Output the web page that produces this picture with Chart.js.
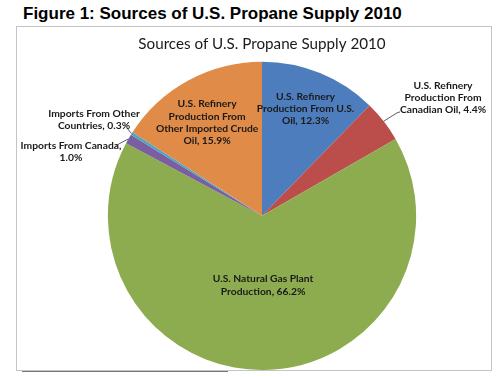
<!DOCTYPE html>
<html>
<head>
<meta charset="utf-8">
<script src="https://cdn.jsdelivr.net/npm/chart.js@4/dist/chart.umd.min.js"></script>
<style>
  body { margin: 0; background: #fff; width: 500px; height: 377px; overflow: hidden; position: relative; }
  #fig { position: absolute; left: 23px; top: 4px; font: bold 17px "Liberation Sans", Arial, sans-serif; color: #000; white-space: nowrap; }
  #box { position: absolute; left: 16px; top: 26px; width: 474px; height: 343px; border: 1px solid #c4c4c4; }
  #rule { position: absolute; left: 22px; top: 371px; width: 206px; height: 1px; background: #777; }
</style>
</head>
<body>
<div id="fig">Figure 1: Sources of U.S. Propane Supply 2010</div>
<div id="box"><canvas id="myChart" width="474" height="343"></canvas></div>
<div id="rule"></div>
<script>
const labels = [
  'U.S. Refinery Production From U.S. Oil',
  'U.S. Refinery Production From Canadian Oil',
  'U.S. Natural Gas Plant Production',
  'Imports From Canada',
  'Imports From Other Countries',
  'U.S. Refinery Production From Other Imported Crude Oil'
];
const shares = [12.3, 4.4, 66.2, 1.0, 0.3, 15.9];
const colors = ['#4e7dbd', '#bb4d4a', '#8dab4f', '#7b5ea0', '#4aa6c2', '#e08b47'];

// how each data label is broken into lines and where it sits
const labelLines = [
  ['U.S. Refinery', 'Production From U.S.', 'Oil, 12.3%'],
  ['U.S. Refinery', 'Production From', 'Canadian Oil, 4.4%'],
  ['U.S. Natural Gas Plant', 'Production, 66.2%'],
  ['Imports From Canada,', '1.0%'],
  ['Imports From Other', 'Countries, 0.3%'],
  ['U.S. Refinery', 'Production From', 'Other Imported Crude', 'Oil, 15.9%']
];
const labelPlace = [
  { inside: 0.75 },
  { dx: 181, dy: -118, leader: [[135, -103], [138, -104]] },
  { inside: 0.45 },
  { dx: -191, dy: -64, leader: [[-143, -72], [-148, -68]] },
  { dx: -168, dy: -96, leader: [[-132, -84], [-135, -88]] },
  { inside: 0.69, shift: -4 }
];

const pieLabels = {
  id: 'pieLabels',
  afterDatasetsDraw(chart) {
    const ctx = chart.ctx;
    const arcs = chart.getDatasetMeta(0).data;
    ctx.save();
    ctx.font = 'bold 10.3px Lato, "Open Sans", sans-serif';
    ctx.fillStyle = '#1a1a1a';
    ctx.textAlign = 'center';
    ctx.textBaseline = 'middle';
    const lh = 12.3;
    arcs.forEach((arc, i) => {
      const p = labelPlace[i];
      const mid = (arc.startAngle + arc.endAngle) / 2;
      const lines = labelLines[i];
      let cx, cy;
      if (p.inside) {
        cx = arc.x + Math.cos(mid) * arc.outerRadius * p.inside + (p.shift || 0);
        cy = arc.y + Math.sin(mid) * arc.outerRadius * p.inside;
      } else {
        cx = arc.x + p.dx;
        cy = arc.y + p.dy;
        const ex = arc.x + Math.cos(mid) * arc.outerRadius;
        const ey = arc.y + Math.sin(mid) * arc.outerRadius;
        ctx.strokeStyle = '#333';
        ctx.lineWidth = 0.8;
        ctx.beginPath();
        ctx.moveTo(ex, ey);
        p.leader.forEach(pt => ctx.lineTo(arc.x + pt[0], arc.y + pt[1]));
        ctx.stroke();
      }
      const top = cy - (lines.length - 1) * lh / 2;
      lines.forEach((t, k) => ctx.fillText(t, cx, top + k * lh));
    });
    ctx.restore();
  }
};

new Chart(document.getElementById('myChart'), {
  type: 'pie',
  data: {
    labels: labels,
    datasets: [{
      data: shares,
      backgroundColor: colors,
      borderWidth: 0
    }]
  },
  options: {
    responsive: false,
    animation: false,
    layout: { padding: { left: 60, right: 44, top: 0, bottom: 0 } },
    plugins: {
      legend: { display: false },
      tooltip: { enabled: false },
      title: {
        display: true,
        text: 'Sources of U.S. Propane Supply 2010',
        color: '#1a1a1a',
        font: { family: 'Lato, "Open Sans", sans-serif', size: 15.2, weight: 'normal', lineHeight: 1.2 },
        padding: { top: 8, bottom: 8.5 }
      }
    }
  },
  plugins: [pieLabels]
});
</script>
</body>
</html>
